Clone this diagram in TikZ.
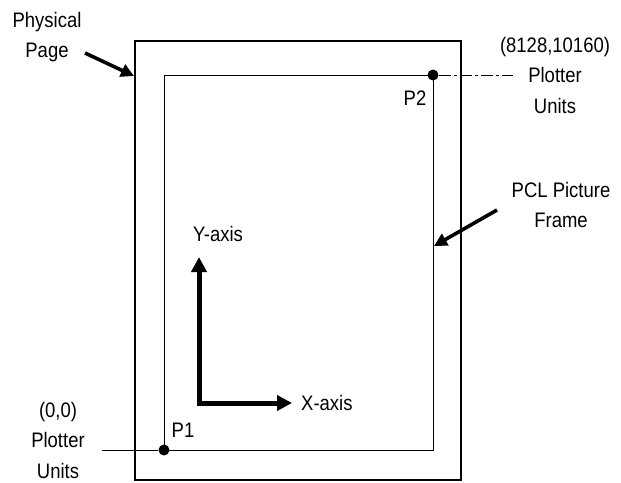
\documentclass[tikz,border=0pt]{standalone}
\usepackage{fontspec}
\setmainfont{Liberation Sans}[FakeStretch=0.88]
\usetikzlibrary{arrows.meta}
\begin{document}
\begin{tikzpicture}[x=1pt,y=-1pt,
  lbl/.style={font=\fontsize{21}{30.5}\selectfont, align=center, inner sep=0pt},
  pointer/.style={line width=3.6pt, -{Triangle[length=13pt,width=13pt]}},
  axis/.style={line width=5pt, -{Triangle[length=15pt,width=15pt]}},
  leader/.style={line width=0.6pt},
  dot/.style={circle, fill=black, inner sep=0pt, minimum size=11pt}]
\useasboundingbox (0,0) rectangle (621,482);
% physical page
\draw[line width=2.6pt] (135,41) rectangle (461,480);
% picture frame
\draw[line width=0.8pt] (164,75) rectangle (433,450);
\node[dot] (p1) at (164,450) {};
\node[dot] (p2) at (433,75) {};
\node[lbl, anchor=base] (p1l) at (183,437) {P1};
\node[lbl, anchor=base] (p2l) at (415,105) {P2};
% leaders
\coordinate (l1) at (102,450);
\coordinate (l2) at (513,75);
\draw[leader] (l1) -- (p1);
\draw[leader, dash pattern=on 12pt off 3pt on 3pt off 3pt] (p2) -- (l2);
% labels
\node[lbl] (pp) at (47,37) {Physical\\Page};
\node[lbl] (ur) at (555,75) {(8128,10160)\\Plotter\\Units};
\node[lbl] (ll) at (58,440) {(0,0)\\Plotter\\Units};
\node[lbl] (pcl) at (561,205) {PCL Picture\\Frame};
% pointer arrows
\coordinate (a1s) at (85,53);
\coordinate (a1e) at (134,76);
\draw[pointer] (a1s) -- (a1e);
\coordinate (a2s) at (497,210);
\coordinate (a2e) at (434,246);
\draw[pointer] (a2s) -- (a2e);
% axes
\coordinate (o) at (199,403);
\coordinate (ye) at (199,257);
\coordinate (xe) at (292,403);
\draw[axis] ([yshift=2.5pt]o) -- (ye);
\draw[axis] ([xshift=-2.5pt]o) -- (xe);
\node[lbl, anchor=base west] (yl) at (193,241) {Y-axis};
\node[lbl, anchor=base west] (xl) at (301,410) {X-axis};
\end{tikzpicture}
\end{document}
